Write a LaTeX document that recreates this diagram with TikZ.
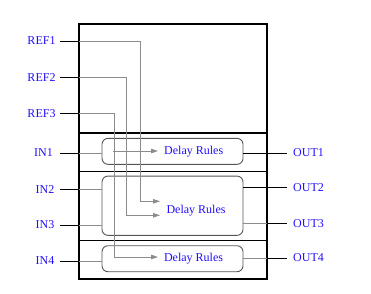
\documentclass[tikz,border=0pt]{standalone}
\usepackage{fontspec}
\setmainfont{Liberation Serif}
\usetikzlibrary{arrows.meta}
\definecolor{lbl}{RGB}{35,15,255}
\definecolor{wire}{RGB}{140,140,140}
\definecolor{frame}{RGB}{85,85,85}
\tikzset{
  sig/.style={font=\fontsize{12}{13}\selectfont, text=lbl, inner sep=0pt},
  stub/.style={draw=black, line width=1pt},
  route/.style={draw=wire, line width=0.8pt},
  inner/.style={draw=black, line width=0.8pt},
  rulebox/.style={draw=frame, rounded corners=6pt, line width=0.9pt,
    inner sep=0pt},
  arr/.style={route, -{Triangle[length=7pt,width=4.5pt]}},
  divider/.style={draw=black, line width=1.1pt},
}
\begin{document}
\begin{tikzpicture}[x=1pt,y=-1pt]
\useasboundingbox (0,0) rectangle (371,293);

% housing and its section dividers
\draw[line width=1.3pt] (79,24) rectangle (267,279);
\draw[divider] (79,133) -- (267,133);
\draw[divider] (79,171.7) -- (267,171.7);
\draw[divider] (79,240.7) -- (267,240.7);

% rule blocks
\node[rulebox, minimum width=141pt, minimum height=26pt]   (r1) at (172.5,151.3) {};
\node[rulebox, minimum width=141pt, minimum height=59.3pt] (r2) at (172.5,205.7) {};
\node[rulebox, minimum width=141pt, minimum height=26pt]   (r3) at (172.5,258.7) {};
\node[sig] (t1) at (193.7,151.5) {Delay Rules};
\node[sig] (t2) at (196,210.5) {Delay Rules};
\node[sig] (t3) at (193.5,258.5) {Delay Rules};

% input labels, pins and ports on the housing
\foreach \n/\y/\cx in {REF1/41/41.5, REF2/77.6/41.5, REF3/113.5/41.5,
                       IN1/153/43.5, IN2/189.3/45, IN3/225/45, IN4/261/45} {
  \node[sig] (\n lbl) at (\cx,\y) {\n};
  \coordinate (\n pin) at (60,\y);
  \coordinate (\n port) at (79,\y);
  \draw[stub] (\n pin) -- (\n port);
}

% output labels, pins and ports
\foreach \n/\y in {OUT1/153, OUT2/187.7, OUT3/223.3, OUT4/258} {
  \node[sig, anchor=west] (\n lbl) at (293,\y) {\n};
  \coordinate (\n pin) at (287,\y);
  \coordinate (\n port) at (267,\y);
  \draw[stub] (\n port) -- (\n pin);
}

% reference routes down into the rule blocks
\coordinate (REF1in) at (160,201.3);
\coordinate (REF2in) at (160,215.3);
\coordinate (REF3in) at (158,257);
\coordinate (IN1tap) at (113,151);
\coordinate (IN1in)  at (158,151);
\draw[arr] (REF1port) -| (140,201.3) -- (REF1in);
\draw[arr] (REF2port) -| (126.5,215.3) -- (REF2in);
\draw[arr] (REF3port) -| (114,257) -- (REF3in);
\draw[arr] (IN1tap) -- (IN1in);

% inputs into the rule blocks
\draw[route] (IN1port) -- (IN1port -| r1.west);
\draw[route] (IN2port) -- (IN2port -| r2.west);
\draw[route] (IN3port) -- (IN3port -| r2.west);
\draw[route] (IN4port) -- (IN4port -| r3.west);

% outputs from the rule blocks
\draw[inner] (OUT1port -| r1.east) -- (OUT1port);
\draw[inner] (OUT2port -| r2.east) -- (OUT2port);
\draw[route] (OUT3port -| r2.east) -- (OUT3port);
\draw[route] (OUT4port -| r3.east) -- (OUT4port);
\end{tikzpicture}
\end{document}
